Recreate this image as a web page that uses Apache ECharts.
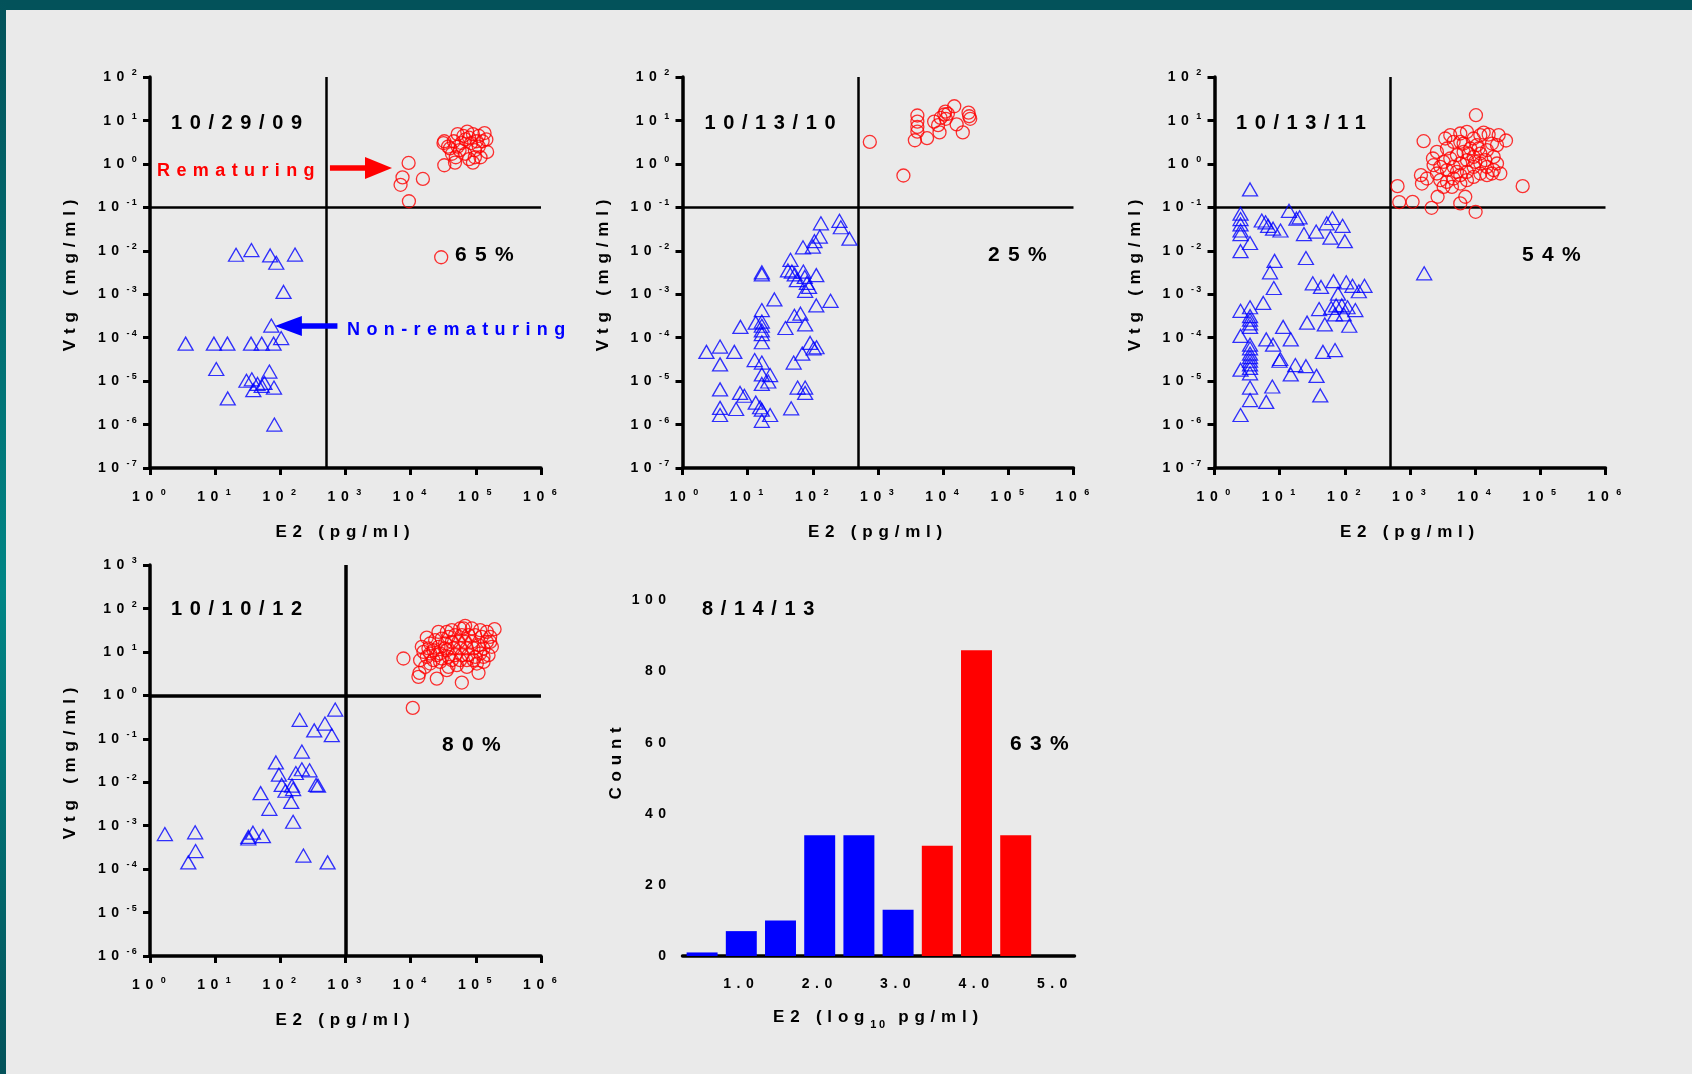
<!DOCTYPE html>
<html><head><meta charset="utf-8">
<script src="https://cdn.jsdelivr.net/npm/echarts@6.0.0/dist/echarts.min.js"></script>
<style>html,body{margin:0;padding:0;background:#eaeaea;}#c{width:1692px;height:1074px;}</style>
</head><body><div id="c"></div>
<script>
// ---------------- DATA ----------------
// [E2 (pg/ml), Vtg (mg/ml)]
var p1Rem = [[9300,1.05],[7500,0.49],[7000,0.33],[15400,0.45],[9400,0.138],[29400,0.0071],[32800,0.93],[47900,1.07],
  [32800,3.32],[31900,3.02],[37500,2.5],[45900,3.32],[52600,4.84],[64400,4.4],[73800,5.53],[90300,4.84],[111000,4.4],
  [136000,5.13],[145000,3.65],[149000,1.88],[118000,1.42],[90300,1.07],[78900,1.29],[96700,2.07],[56300,2.07],[43000,1.71],
  [49200,1.42],[69000,1.71],[84500,3.02],[103000,3.32],[60200,3.02],[40200,2.27],[111000,2.5],[127000,3.32],[69000,3.65],
  [52600,2.5],[96700,1.42],[78900,4.01]];
var p1NonRem = [[20.9,0.0081],[36,0.0104],[69.8,0.0078],[86.6,0.0053],[168,0.0082],[112,0.00113],[72.7,0.00019],[103,9.8e-5],
  [3.52,7.3e-5],[9.56,7.3e-5],[15.4,7.3e-5],[35.5,7.3e-5],[51.8,7.3e-5],[78.8,7.3e-5],[10.4,1.9e-5],[67.9,1.66e-5],[30.2,1.02e-5],
  [36.5,1.1e-5],[44.7,8.6e-6],[51.8,7.8e-6],[57,9.1e-6],[38.5,6.2e-6],[79.9,7.1e-6],[15.6,4.0e-6],[81,1.0e-6]];

var p2Rem = [[749,3.2],[2455,0.54],[4018,13.0],[4018,9.4],[4018,7.1],[4018,5.5],[3680,3.5],[5650,3.9],[7270,9.4],[8360,7.8],
  [8790,5.3],[9140,11.4],[10400,13.7],[10800,16.0],[11000,10.9],[11800,14.2],[14800,21.2],[16100,8.1],[20000,5.3],[24500,15.1],
  [25100,12.5],[26000,10.9]];
var p2NonRem = [[256,0.0489],[269,0.0348],[365,0.019],[133,0.0428],[128,0.0212],[106,0.0166],[100,0.0125],[70.6,0.012],
  [45.4,0.0062],[41.5,0.00352],[47.7,0.00332],[52.8,0.00286],[71.5,0.00332],[75.2,0.0025],[81.1,0.00182],[87.5,0.00147],
  [76.2,0.0012],[113,0.00275],[56.9,0.00211],[16.5,0.0032],[16.5,0.00286],[25.7,0.00076],[187,0.000705],[113,0.000551],
  [16.5,0.000431],[16.5,0.000235],[13.3,0.000222],[16.5,0.000188],[16.5,0.000147],[16.5,0.000121],[16.5,7.85e-5],[7.74,0.000177],
  [38,0.000167],[52.1,0.000319],[64.6,0.000357],[76.2,0.000202],[2.33,4.71e-5],[3.77,6.25e-5],[6.24,4.71e-5],[3.77,2.43e-5],
  [12.8,3.05e-5],[16.5,2.67e-5],[50.8,2.67e-5],[68.8,4.29e-5],[90.8,7.55e-5],[114,6.02e-5],[103,5.69e-5],[16.5,1.43e-5],
  [22.1,1.38e-5],[20.7,9.8e-6],[16.5,8.6e-6],[3.77,6.45e-6],[7.64,5.35e-6],[8.89,4.6e-6],[58.4,7.1e-6],[76.2,7.1e-6],[76.2,5.35e-6],
  [3.77,2.42e-6],[3.77,1.66e-6],[6.65,2.28e-6],[13.3,3.2e-6],[15.5,2.5e-6],[16.5,2.2e-6],[16.5,1.22e-6],[22.1,1.66e-6],[46.5,2.37e-6]];

var p3Rem = [[10280,13.2],[1618,3.33],[644,0.307],[684,0.132],[1096,0.134],[2145,0.0975],[5910,0.123],[10160,0.0789],[53580,0.307],
  [29720,3.45],[1472,0.55],[1525,0.353],[2652,0.175],[7050,0.175],[2249,1.33],[3478,3.84],[5910,5.0],[7480,5.46],[13490,5.27],
  [16100,4.74],[18110,2.94],[21630,2.7],[3690,2.26],[4670,3.22],[5910,3.22],[9470,3.84],[10660,2.7],[8420,2.26],[6650,1.89],
  [5250,1.59],[4150,1.33],[3280,1.11],[2915,0.855],[3690,0.717],[4670,0.855],[5910,1.02],[7480,1.22],[9470,1.45],[12000,1.73],
  [15180,2.07],[19230,1.45],[21630,1.02],[24320,0.601],[19230,0.717],[15180,0.855],[12000,1.02],[9470,0.855],[7480,0.656],
  [5910,0.55],[4670,0.461],[3690,0.386],[2915,0.422],[2590,0.601],[3280,0.296],[4404,0.296],[5910,0.353],[7480,0.422],[9470,0.503],
  [12000,0.601],[15180,0.55],[18110,0.601],[6650,2.94],[12000,4.58],[4150,4.58],[2590,1.89],[2302,0.933],[1820,0.461],[10040,1.11],
  [7940,1.73],[5250,0.656],[11300,2.26],[14320,1.22],[22910,4.58]];
var p3NonRem = [[2.51,0.0713],[2.51,0.0537],[2.51,0.0404],[2.51,0.0293],[2.51,0.0243],[2.51,0.00977],[2.51,0.000415],[2.51,0.00011],
  [2.51,1.83e-5],[2.51,1.66e-6],[3.51,0.258],[3.51,0.0151],[3.51,0.000501],[3.51,0.000313],[3.51,0.000259],[3.51,0.000214],
  [3.51,0.000177],[3.51,6.88e-5],[3.51,5.69e-5],[3.51,4.29e-5],[3.51,3.55e-5],[3.51,2.94e-5],[3.51,2.43e-5],[3.51,2.01e-5],
  [3.51,1.51e-5],[3.51,7.1e-6],[3.51,3.66e-6],[13.9,0.083],[18.1,0.0547],[20.2,0.059],[23.6,0.0243],[36.3,0.0277],[52.7,0.0428],
  [64.4,0.0568],[60.2,0.02],[92.3,0.0375],[100,0.0166],[5.31,0.0498],[6.07,0.0453],[6.66,0.0375],[7.92,0.0322],[10.3,0.0293],
  [8.35,0.00586],[7.11,0.0032],[8.13,0.00139],[5.6,0.00063],[25.3,0.00682],[32.2,0.00178],[43.1,0.00147],[67,0.002],[78.7,0.00103],
  [105,0.00188],[131,0.00156],[164,0.00117],[200,0.00156],[73.6,0.000551],[61.8,0.000483],[89.9,0.000551],[110,0.000501],
  [96.1,0.000344],[70.7,0.000344],[145,0.000431],[40.3,0.000456],[26.3,0.000222],[49.3,0.000202],[117,0.000188],[11.3,0.000177],
  [14.8,9.14e-5],[6.22,9.14e-5],[7.92,6.88e-5],[10.2,3.23e-5],[9.93,2.94e-5],[17.4,2.34e-5],[25.3,2.21e-5],[14.8,1.43e-5],
  [36.8,1.32e-5],[46.1,4.71e-5],[70.7,5.18e-5],[7.71,7.51e-6],[6.22,3.33e-6],[42,4.69e-6],[1650,0.00303]];

var p4Rem = [[10770,0.514],[7745,7.04],[60980,1.97],[25190,2.43],[13160,2.66],[13640,3.29],[110000,3.29],[68610,39.8],[193900,33.4],
  [17670,21.4],[35880,3.79],[19890,5.39],[26720,28.9],[42820,31.6],[57490,34.6],[86860,34.6],[116600,31.6],[147600,28.9],
  [166100,22.2],[176200,13.1],[156600,8.4],[131200,5.89],[103700,5.39],[72780,4.52],[51100,4.94],[38060,4.52],[28340,5.89],
  [22390,6.44],[17670,7.69],[15710,10.0],[14820,13.1],[13960,6.44],[16670,4.52],[19890,15.6],[23750,18.6],[30060,20.3],
  [38060,22.2],[48180,24.3],[60980,24.3],[77200,24.3],[97730,24.3],[123700,22.2],[147600,17.0],[131200,12.0],[110000,14.3],
  [86860,17.0],[68610,17.0],[54200,17.0],[42820,17.0],[33820,15.6],[26720,13.1],[22390,10.9],[28340,9.18],[35880,10.9],
  [45420,12.0],[57490,12.0],[72780,12.0],[92130,12.0],[116600,9.18],[97730,7.69],[77200,8.4],[60980,8.4],[48180,8.4],
  [38060,7.69],[30060,7.04],[25190,8.4],[57490,6.44],[72780,6.44],[92130,6.44],[42820,6.44],[33820,12.0],[19890,9.18],
  [131200,7.69],[166100,17.0],[64690,34.6],[35880,28.9],[18750,12.0]];
var p4NonRem = [[1.69,0.00064],[4.93,0.000702],[5.0,0.00026],[3.87,0.000143],[32.3,0.000555],[38,0.000689],[54,0.000575],
  [32.3,0.000507],[49.8,0.00561],[67.9,0.00244],[85.5,0.0285],[95.2,0.0149],[105,0.00865],[120,0.00637],[147,0.00351],
  [157,0.00123],[151,0.00835],[173,0.0163],[198,0.273],[214,0.0508],[214,0.0199],[281,0.0188],[354,0.00865],[378,0.00835],
  [331,0.156],[483,0.224],[616,0.121],[695,0.47],[226,0.000205],[531,0.000143],[157,0.00697]];

// histogram of 8/14/13
var histBins = ['0.5','1.0','1.5','2.0','2.5','3.0','3.5','4.0','4.5','5.0'];
var histNonRem = [1, 7, 10, 34, 34, 13, '-', '-', '-', '-'];
var histRem = ['-', '-', '-', '-', '-', '-', 31, 86, 34, '-'];

var panelDates = ['10/29/09', '10/13/10', '10/13/11', '10/10/12', '8/14/13'];
var panelPercents = ['65%', '25%', '54%', '80%', '63%'];
var e2Thresholds = [500, 500, 500, 1000];
var vtgThresholds = [0.1, 0.1, 0.1, 1];

// ---------------- STYLE ----------------
var FONT = 'Liberation Sans';
var LS = {8: 1.8, 9: 2.2, 11: 2.6, 14: 5.5, 17: 5.8, 18: 6.4, 20: 7.6, 21: 8.3};
(function () {
  var P = window.CanvasRenderingContext2D && CanvasRenderingContext2D.prototype;
  if (!P || !('letterSpacing' in P)) return;
  function apply(ctx) {
    var m = /(\d+(?:\.\d+)?)px/.exec(ctx.font || '');
    var s = m ? Math.round(parseFloat(m[1])) : 12;
    var v = LS[s] != null ? LS[s] : s * 0.37;
    ctx.letterSpacing = v + 'px';
  }
  var mt = P.measureText, ft = P.fillText, st = P.strokeText;
  P.measureText = function (t) { apply(this); return mt.call(this, t); };
  P.fillText = function () { apply(this); return ft.apply(this, arguments); };
  P.strokeText = function () { apply(this); return st.apply(this, arguments); };
})();

var RED = '#ff0000', BLUE = '#0000ff', INK = '#000000';
var RICH = {
  b: {fontSize: 14, fontWeight: 'bold', fontFamily: FONT, color: INK, lineHeight: 20, verticalAlign: 'bottom'},
  s: {fontSize: 9, fontWeight: 'bold', fontFamily: FONT, color: INK, lineHeight: 8, verticalAlign: 'top', padding: [0, 0, 0, 2]}
};
function powLabel(v) {
  var e = Math.round(Math.log(v) / Math.LN10);
  return '{b|10}{s|' + e + '}';
}
var nameStyle = {fontSize: 17, fontWeight: 'bold', fontFamily: FONT, color: INK};
function baseAxis(gi) {
  return {
    gridIndex: gi,
    axisLine: {onZero: false, lineStyle: {color: INK, width: 3.5}},
    axisTick: {length: 7, lineStyle: {color: INK, width: 3}},
    minorTick: {show: false},
    splitLine: {show: false},
    nameLocation: 'middle',
    nameTextStyle: nameStyle
  };
}
function logX(gi) {
  var a = baseAxis(gi);
  a.type = 'log'; a.logBase = 10; a.min = 1; a.max = 1e6;
  a.name = 'E2 (pg/ml)'; a.nameGap = 53;
  a.axisLabel = {margin: 19, formatter: powLabel, rich: RICH};
  return a;
}
function logY(gi, min, max) {
  var a = baseAxis(gi);
  a.type = 'log'; a.logBase = 10; a.min = min; a.max = max;
  a.name = 'Vtg (mg/ml)'; a.nameGap = 68;
  a.axisLabel = {margin: 11, formatter: powLabel, rich: RICH};
  return a;
}

var grids = [
  {left: 150, top: 77, width: 391, height: 391},
  {left: 682.5, top: 77, width: 391, height: 391},
  {left: 1214.5, top: 77, width: 391, height: 391},
  {left: 150, top: 565, width: 391, height: 391},
  {left: 682.5, top: 565, width: 392, height: 391}
];

function circles(gi, data, ml) {
  var s = {type: 'scatter', xAxisIndex: gi, yAxisIndex: gi, data: data, symbol: 'circle', symbolSize: 13,
    itemStyle: {color: 'rgba(0,0,0,0)', borderColor: RED, borderWidth: 1.3}, silent: true, z: 3};
  if (ml) s.markLine = ml;
  return s;
}
function triangles(gi, data, ml) {
  var s = {type: 'scatter', xAxisIndex: gi, yAxisIndex: gi, data: data, symbol: 'triangle', symbolSize: [15, 13],
    itemStyle: {color: 'rgba(0,0,0,0)', borderColor: BLUE, borderWidth: 1.3}, silent: true, z: 3};
  if (ml) s.markLine = ml;
  return s;
}
function thresholdLines(i, w) {
  return {silent: true, symbol: 'none', animation: false, label: {show: false}, z: 2,
    lineStyle: {color: INK, width: w, type: 'solid'},
    data: [{xAxis: e2Thresholds[i]}, {yAxis: vtgThresholds[i]}]};
}
var arrowLines = {silent: true, animation: false, label: {show: false}, symbol: 'none', z: 4,
  data: [
    [{coord: [577, 0.8], symbol: 'none', lineStyle: {color: RED, width: 5.5, type: 'solid'}},
     {coord: [3210, 0.8], symbol: 'triangle', symbolSize: [22, 27]}],
    [{coord: [752, 1.85e-4], symbol: 'none', lineStyle: {color: BLUE, width: 5.5, type: 'solid'}},
     {coord: [133, 1.85e-4], symbol: 'triangle', symbolSize: [20, 27]}]
  ]};

var histX = baseAxis(4);
histX.type = 'category'; histX.data = histBins; histX.boundaryGap = true;
histX.axisTick = {alignWithLabel: true, interval: 0, length: 7, lineStyle: {color: INK, width: 3}};
histX.axisLabel = {interval: 0, margin: 18, fontSize: 14, fontWeight: 'bold', fontFamily: FONT, color: INK,
  formatter: function (v) { return (parseFloat(v) % 1 === 0) ? v : ''; }};
histX.name = '{a|E2 (log}{s|10}{a| pg/ml)}'; histX.nameGap = 50;
histX.nameTextStyle = {rich: {
  a: {fontSize: 17, fontWeight: 'bold', fontFamily: FONT, color: INK, lineHeight: 26, verticalAlign: 'top'},
  s: {fontSize: 11, fontWeight: 'bold', fontFamily: FONT, color: INK, lineHeight: 12, verticalAlign: 'bottom'}}};

var histY = baseAxis(4);
histY.type = 'value'; histY.min = 0; histY.max = 110; histY.interval = 20;
histY.axisTick = {length: 7, lineStyle: {color: INK, width: 3}, customValues: [0, 20, 40, 60, 80, 100]};
histY.axisLabel = {margin: 11, fontSize: 14, fontWeight: 'bold', fontFamily: FONT, color: INK, customValues: [0, 20, 40, 60, 80, 100]};
histY.name = 'Count'; histY.nameGap = 55;

function txt(x, y, t, size, color) {
  return {type: 'text', x: x, y: y, silent: true, z: 10,
    style: {text: t, fill: color || INK, font: 'bold ' + size + 'px ' + FONT, align: 'left', verticalAlign: 'middle'}};
}

var chart = echarts.init(document.getElementById('c'), null, {renderer: 'canvas', width: 1692, height: 1074});
chart.setOption({
  animation: false,
  backgroundColor: '#eaeaea',
  grid: grids,
  xAxis: [logX(0), logX(1), logX(2), logX(3), histX],
  yAxis: [logY(0, 1e-7, 1e2), logY(1, 1e-7, 1e2), logY(2, 1e-7, 1e2), logY(3, 1e-6, 1e3), histY],
  series: [
    circles(0, p1Rem, thresholdLines(0, 2.5)), triangles(0, p1NonRem, arrowLines),
    circles(1, p2Rem, thresholdLines(1, 2.5)), triangles(1, p2NonRem),
    circles(2, p3Rem, thresholdLines(2, 2.5)), triangles(2, p3NonRem),
    circles(3, p4Rem, thresholdLines(3, 3.5)), triangles(3, p4NonRem),
    {type: 'bar', name: 'Non-rematuring', xAxisIndex: 4, yAxisIndex: 4, data: histNonRem, barWidth: '79%', barGap: '-100%', itemStyle: {color: BLUE}, silent: true},
    {type: 'bar', name: 'Rematuring', xAxisIndex: 4, yAxisIndex: 4, data: histRem, barWidth: '79%', barGap: '-100%', itemStyle: {color: RED}, silent: true}
  ],
  graphic: [
    {type: 'rect', x: 0, y: 0, silent: true, z: 20, shape: {width: 1692, height: 10}, style: {fill: '#03525a'}},
    {type: 'rect', x: 0, y: 0, silent: true, z: 20, shape: {width: 6, height: 1074},
      style: {fill: new echarts.graphic.LinearGradient(0, 0, 0, 1, [
        {offset: 0, color: '#03525a'}, {offset: 0.55, color: '#008585'}, {offset: 1, color: '#03525a'}])}},
    txt(171, 123, panelDates[0], 20), txt(704.5, 123, panelDates[1], 20), txt(1236, 123, panelDates[2], 20),
    txt(171, 609, panelDates[3], 20), txt(702, 609.5, panelDates[4], 20),
    txt(455, 255, panelPercents[0], 21), txt(988, 255, panelPercents[1], 21), txt(1522, 255, panelPercents[2], 21),
    txt(442, 745, panelPercents[3], 21), txt(1010, 744.5, panelPercents[4], 21),
    txt(157, 171, 'Rematuring', 18, RED), txt(347, 330, 'Non-rematuring', 18, BLUE)
  ]
});
</script></body></html>
